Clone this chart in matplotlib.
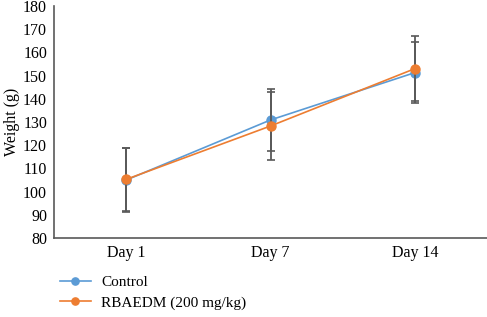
import matplotlib
matplotlib.use("Agg")
import matplotlib.pyplot as plt
import numpy as np

days = ["Day 1", "Day 7", "Day 14"]
control = [105.0, 130.9, 151.3]
control_err = [13.8, 13.4, 13.2]
rbaedm = [105.3, 128.3, 153.0]
rbaedm_err = [13.6, 14.5, 13.9]

plt.rcParams["font.family"] = ["Liberation Serif", "DejaVu Serif"]

fig = plt.figure(figsize=(4.87, 3.17), dpi=100)
ax = fig.add_axes([0.111, 0.249, 0.889, 0.732])

x = np.arange(len(days)) + 0.5
grey = "#595959"

ax.errorbar(x, control, yerr=control_err, color="#5b9bd5", ecolor=grey,
            elinewidth=1.3, capsize=3, capthick=1.2, marker="o", markersize=6.5,
            linewidth=1.2, label="Control", zorder=3)
ax.errorbar(x, rbaedm, yerr=rbaedm_err, color="#ed7d31", ecolor=grey,
            elinewidth=1.3, capsize=3, capthick=1.2, marker="o", markersize=6.5,
            linewidth=1.2, label="RBAEDM (200 mg/kg)", zorder=4)

ax.set_xlim(0, 3)
ax.set_ylim(80, 180)
ax.set_yticks(range(80, 181, 10))
ax.set_xticks(x)
ax.set_xticklabels(days)
ax.tick_params(length=0, labelsize=11.5, colors="black", pad=5)
ax.set_ylabel("Weight (g)", fontsize=11.5, labelpad=2)

for s in ["top", "right"]:
    ax.spines[s].set_visible(False)
for s in ["left", "bottom"]:
    ax.spines[s].set_color(grey)
    ax.spines[s].set_linewidth(1.2)

handles, labels = ax.get_legend_handles_labels()
handles = [h[0] for h in handles]
fig.legend(handles, labels, loc="upper left", bbox_to_anchor=(0.095, 0.175),
           frameon=False, fontsize=11, handlelength=2.0, handletextpad=0.7,
           labelspacing=0.45, markerscale=0.8)

fig.savefig("out.png", dpi=100)
